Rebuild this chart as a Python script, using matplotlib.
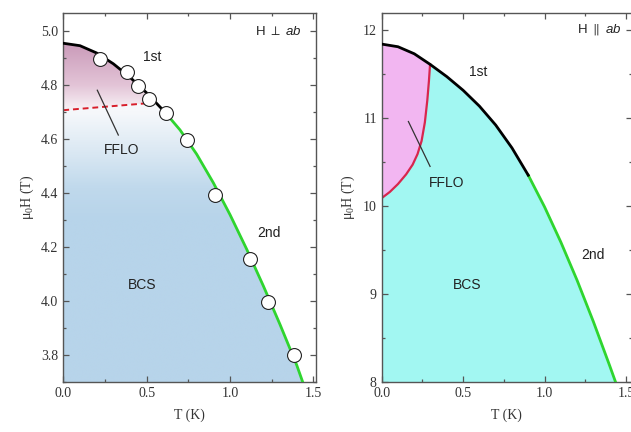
import numpy as np
import matplotlib.pyplot as plt
from matplotlib.colors import to_rgb
from matplotlib.patches import Polygon
from matplotlib.ticker import MultipleLocator, FormatStrFormatter

plt.rcParams['font.family'] = ['Liberation Serif', 'DejaVu Serif']
plt.rcParams['mathtext.fontset'] = 'custom'
plt.rcParams['mathtext.rm'] = 'Liberation Serif'
plt.rcParams['mathtext.it'] = 'Liberation Sans:italic'
plt.rcParams['mathtext.fallback'] = 'stixsans'

# --- left panel: H perpendicular to ab ---
perp_first_T = [0.0, 0.1, 0.2, 0.3, 0.4, 0.5, 0.6, 0.62]
perp_first_H = [4.955, 4.946, 4.919, 4.879, 4.829, 4.771, 4.706, 4.692]
perp_second_T = [0.62, 0.7, 0.8, 0.9, 1.0, 1.1, 1.2, 1.3, 1.4, 1.436]
perp_second_H = [4.692, 4.634, 4.544, 4.438, 4.320, 4.192, 4.056, 3.913, 3.763, 3.70]
perp_dash_T = [0.0, 0.49]
perp_dash_H = [4.707, 4.732]
perp_pts_T = [0.222, 0.382, 0.45, 0.514, 0.616, 0.742, 0.912, 1.12, 1.228, 1.383]
perp_pts_H = [4.896, 4.849, 4.797, 4.749, 4.695, 4.596, 4.394, 4.154, 3.997, 3.80]

# --- right panel: H parallel to ab ---
par_first_T = [0.0, 0.1, 0.2, 0.297, 0.4, 0.5, 0.6, 0.7, 0.8, 0.9]
par_first_H = [11.84, 11.81, 11.73, 11.61, 11.47, 11.315, 11.135, 10.92, 10.66, 10.35]
par_second_T = [0.9, 1.0, 1.1, 1.2, 1.3, 1.4, 1.436]
par_second_H = [10.35, 9.99, 9.59, 9.155, 8.685, 8.185, 8.0]
par_fflo_T = [0.0, 0.05, 0.1, 0.15, 0.19, 0.22, 0.245, 0.265, 0.28, 0.29, 0.297]
par_fflo_H = [10.09, 10.16, 10.25, 10.36, 10.47, 10.59, 10.74, 10.95, 11.2, 11.42, 11.61]

W, H = 631, 432
fig = plt.figure(figsize=(W / 100, H / 100), dpi=100)
ax1 = fig.add_axes([63.3 / W, 1 - 382 / H, (315.7 - 63.3) / W, (382 - 13.3) / H])
ax2 = fig.add_axes([381.7 / W, 1 - 382 / H, (632 - 381.7) / W, (382 - 13.3) / H])

sans = ['Liberation Sans', 'DejaVu Sans']


def ramp(h, stops):
    hs = [s[0] for s in stops]
    cols = np.array([to_rgb(s[1]) for s in stops])
    return np.stack([np.interp(h, hs, cols[:, i]) for i in range(3)], axis=-1)


def style(ax, xmax, ylo, yhi, ymaj, ymin):
    ax.set_xlim(0, xmax)
    ax.set_ylim(ylo, yhi)
    ax.xaxis.set_major_locator(MultipleLocator(0.5))
    ax.xaxis.set_minor_locator(MultipleLocator(0.25))
    ax.yaxis.set_major_locator(MultipleLocator(ymaj))
    ax.yaxis.set_minor_locator(MultipleLocator(ymin))
    ax.xaxis.set_major_formatter(FormatStrFormatter('%.1f'))
    ax.tick_params(which='both', direction='in', top=True, right=True,
                   colors='#555', labelcolor='#333', labelsize=10, width=0.9)
    ax.tick_params(which='major', length=4.5)
    ax.tick_params(which='minor', length=2.5)
    for s in ax.spines.values():
        s.set_color('#555')
        s.set_linewidth(1.0)
    ax.set_xlabel('T (K)', fontsize=10, color='#333', labelpad=6)
    ax.set_ylabel(r'μ$_\mathrm{0}$H (T)', fontsize=10, color='#333', labelpad=4)


# left panel
style(ax1, 1.514, 3.7, 5.066, 0.2, 0.1)
ax1.yaxis.set_major_formatter(FormatStrFormatter('%.1f'))

curve_T = perp_first_T + perp_second_T[1:]
curve_H = perp_first_H + perp_second_H[1:]
tt, hh = np.meshgrid(np.linspace(0, 1.514, 300), np.linspace(3.7, 5.066, 500))
dash = np.interp(tt, perp_dash_T, perp_dash_H, right=perp_dash_H[-1])
pink = ramp(hh, [(4.72, '#f6edf2'), (4.80, '#e3c4d7'), (4.96, '#c999b8')])
blue = ramp(hh, [(4.30, '#b7d4ea'), (4.42, '#c0d9ec'), (4.55, '#dae8f3'), (4.70, '#f6f8fb')])
img = np.where((hh > dash)[..., None], pink, blue)
im = ax1.imshow(img, origin='lower', extent=[0, 1.514, 3.7, 5.066], aspect='auto', zorder=0)
clip = Polygon([(0, 3.7)] + list(zip(curve_T, curve_H)) + [(curve_T[-1], 3.7)],
               closed=True, facecolor='none', edgecolor='none', transform=ax1.transData)
ax1.add_patch(clip)
im.set_clip_path(clip)

ax1.plot(perp_dash_T, perp_dash_H, color='#d81e2a', lw=1.4, ls=(0, (3, 2)), zorder=2)
ax1.plot(perp_second_T, perp_second_H, color='#2fd52f', lw=2.0, zorder=3)
ax1.plot(perp_first_T, perp_first_H, color='black', lw=2.0, zorder=3)
ax1.plot(perp_pts_T, perp_pts_H, 'o', ms=10, mfc='white', mec='#222', mew=0.8, zorder=4)
ax1.plot([0.204, 0.33], [4.781, 4.615], color='#333', lw=0.9, zorder=3)

ax1.text(0.532, 4.905, '1st', fontsize=10, family=sans, ha='center', va='center', color='#222')
ax1.text(0.35, 4.559, 'FFLO', fontsize=10, family=sans, ha='center', va='center', color='#222')
ax1.text(1.236, 4.252, '2nd', fontsize=10, family=sans, ha='center', va='center', color='#222')
ax1.text(0.47, 4.06, 'BCS', fontsize=10, family=sans, ha='center', va='center', color='#222')
ax1.text(1.43, 5.0, r'H ${\perp}$ $\it{ab}$', fontsize=9.5, family=sans, ha='right', va='center', color='#222')

# right panel
style(ax2, 1.537, 8.0, 12.19, 1, 0.5)
ax2.yaxis.set_major_formatter(FormatStrFormatter('%d'))

full_T = par_first_T + par_second_T[1:]
full_H = par_first_H + par_second_H[1:]
ax2.fill_between(full_T, 8.0, full_H, color='#a2f7f2', lw=0, zorder=0)
n_top = par_first_T.index(par_fflo_T[-1])
pink_poly = list(zip(par_fflo_T, par_fflo_H)) + list(zip(par_first_T[:n_top + 1], par_first_H[:n_top + 1]))[::-1]
ax2.fill([p[0] for p in pink_poly], [p[1] for p in pink_poly], color='#f2b6f1', lw=0, zorder=1)
ax2.plot(par_fflo_T, par_fflo_H, color='#d8264e', lw=1.6, zorder=2)
ax2.plot(par_second_T, par_second_H, color='#2fd52f', lw=2.0, zorder=3)
ax2.plot(par_first_T, par_first_H, color='black', lw=2.0, zorder=3)
ax2.plot([0.164, 0.297], [10.96, 10.45], color='#333', lw=0.9, zorder=3)

ax2.text(0.592, 11.52, '1st', fontsize=10, family=sans, ha='center', va='center', color='#222')
ax2.text(0.40, 10.26, 'FFLO', fontsize=10, family=sans, ha='center', va='center', color='#222')
ax2.text(1.30, 9.44, '2nd', fontsize=10, family=sans, ha='center', va='center', color='#222')
ax2.text(0.522, 9.10, 'BCS', fontsize=10, family=sans, ha='center', va='center', color='#222')
ax2.text(1.474, 12.0, r'H ${\parallel}$ $\it{ab}$', fontsize=9.5, family=sans, ha='right', va='center', color='#222')

fig.savefig('out.png', dpi=100)
